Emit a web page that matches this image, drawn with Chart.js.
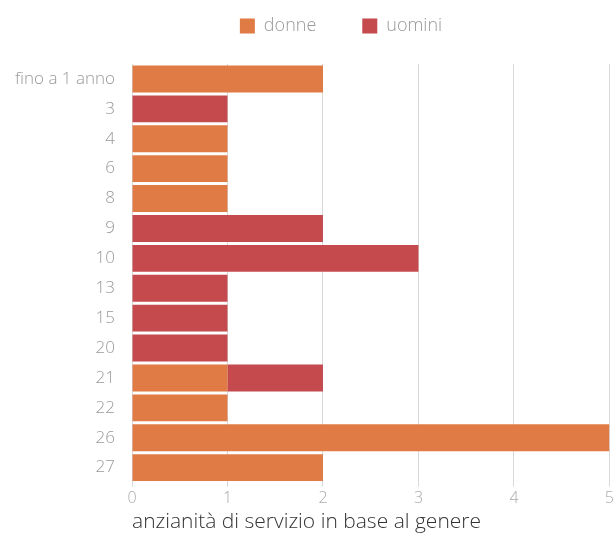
<!DOCTYPE html>
<html>
<head>
<meta charset="utf-8">
<script src="https://cdn.jsdelivr.net/npm/chart.js@4"></script>
<style>
  html, body { margin: 0; padding: 0; background: #fff; }
  #wrap { width: 616px; height: 538px; }
</style>
</head>
<body>
<div id="wrap"><canvas id="chart"></canvas></div>
<script>
const categories = ['fino a 1 anno', '3', '4', '6', '8', '9', '10', '13', '15', '20', '21', '22', '26', '27'];
const donne  = [2, 0, 1, 1, 1, 0, 0, 0, 0, 0, 1, 1, 5, 2];
const uomini = [0, 1, 0, 0, 0, 2, 3, 1, 1, 1, 1, 0, 0, 0];
const xTicks = [0, 1, 2, 3, 4, 5];

const FONT = 'Open Sans';

// extra room under the legend, legend centred over the plot area
const legendSpacer = {
  id: 'legendSpacer',
  beforeInit(chart) {
    const fit = chart.legend.fit;
    chart.legend.fit = function () {
      fit.bind(chart.legend)();
      this.height += 19;
    };
  },
  afterLayout(chart) {
    chart.legend.left += 35;
    chart.legend.right += 35;
  }
};

new Chart(document.getElementById('chart').getContext('2d'), {
  type: 'bar',
  data: {
    labels: categories,
    datasets: [
      { label: 'donne',  data: donne,  backgroundColor: '#e07b45', barPercentage: 0.9, categoryPercentage: 1 },
      { label: 'uomini', data: uomini, backgroundColor: '#c44a4e', barPercentage: 0.9, categoryPercentage: 1 }
    ]
  },
  plugins: [legendSpacer],
  options: {
    indexAxis: 'y',
    responsive: true,
    maintainAspectRatio: false,
    animation: false,
    layout: { padding: { left: 0, right: 4, top: -29, bottom: 0 } },
    plugins: {
      legend: {
        position: 'top',
        labels: {
          boxWidth: 15, boxHeight: 15, padding: 46,
          color: '#999', font: { family: FONT, size: 18, weight: '300' }
        }
      },
      tooltip: { enabled: false }
    },
    scales: {
      x: {
        stacked: true,
        min: 0, max: 5,
        afterBuildTicks: axis => { axis.ticks = xTicks.map(v => ({ value: v })); },
        grid: { color: '#d8d8d8', drawTicks: true, tickLength: 4 },
        border: { display: false },
        ticks: { color: '#aaa', font: { family: FONT, size: 16, weight: '300' }, padding: 2 },
        title: {
          display: true,
          align: 'start',
          text: 'anzianità di servizio in base al genere',
          color: '#333', font: { family: FONT, size: 21, weight: '300' }, padding: { top: 0, bottom: 3 }
        }
      },
      y: {
        stacked: true,
        afterFit: axis => { axis.width = 132; },
        grid: { display: false },
        border: { display: false },
        ticks: { color: '#999', font: { family: FONT, size: 17, weight: '300' }, padding: 9 }
      }
    }
  }
});
</script>
</body>
</html>
